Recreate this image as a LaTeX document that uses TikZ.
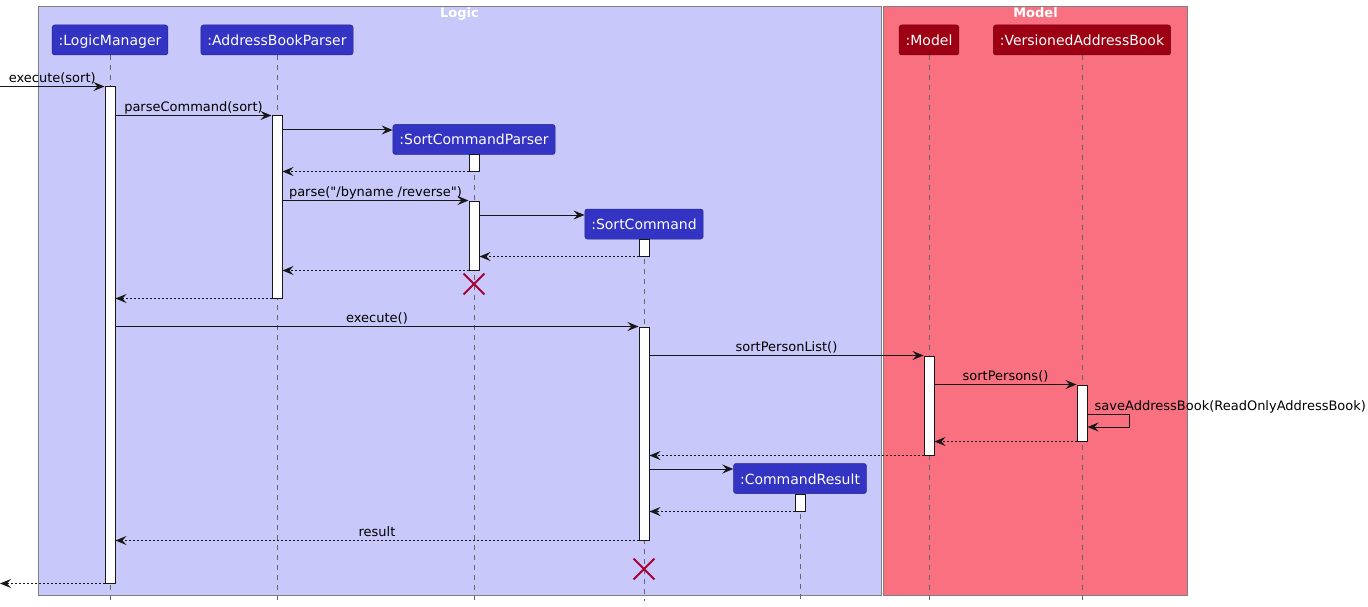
\documentclass[tikz,border=0pt]{standalone}
\usepackage{fontspec}
\setmainfont{DejaVu Sans}
\usetikzlibrary{positioning, calc, arrows.meta, shapes.misc}
\definecolor{LogicBlue}{HTML}{3333C4}
\definecolor{LogicPale}{HTML}{C8C8FA}
\definecolor{ModelRed}{HTML}{9D0012}
\definecolor{ModelPale}{HTML}{F97181}
\definecolor{KillRed}{HTML}{A80036}
\definecolor{Ink}{HTML}{181818}
\tikzstyle{Arrow} = [
line width=1pt, draw=Ink,
-{Stealth[length=11pt, width=9pt, inset=4pt]}]
\tikzstyle{Reply} = [Arrow, dash pattern=on 2pt off 2pt]
\tikzstyle{Part} = [
rounded corners=2.5pt, line width=0.5pt, text=white,
font=\fontsize{14pt}{16pt}\selectfont, text height=11pt, text depth=0pt,
minimum height=30pt, inner xsep=6.5pt]
\tikzstyle{LogicPart} = [Part, fill=LogicBlue, draw=LogicBlue!70!black]
\tikzstyle{ModelPart} = [Part, fill=ModelRed, draw=ModelRed!70!black]
\tikzstyle{Group} = [draw=black!50, line width=1pt, inner sep=0pt]
\tikzstyle{Title} = [anchor=base, inner sep=0pt, text=white, font=\fontsize{13pt}{15.6pt}\selectfont\bfseries]
\tikzstyle{Bar} = [draw=Ink, fill=white, line width=1pt, minimum width=10pt, inner sep=0pt]
\tikzstyle{Life} = [draw=black!60, line width=0.8pt, dash pattern=on 5pt off 5pt]
\tikzstyle{Kill} = [cross out, draw=KillRed, line width=1.8pt, minimum size=19pt, inner sep=0pt]
\tikzstyle{Label} = [midway, anchor=base, yshift=4pt, inner sep=0pt]

\begin{document}
\begin{tikzpicture}[x=1pt, y=-1pt, font=\fontsize{13pt}{15.6pt}\selectfont]
    \useasboundingbox (0,0) rectangle (1368,607);
    \node[Group, fill=LogicPale, minimum width=842.5pt, minimum height=588.5pt] (logic) at (459.75,300.75) {};
    \node[Group, fill=ModelPale, minimum width=304pt, minimum height=588.5pt] (model) at (1035.5,300.75) {};
    \node[Title] (logictitle) at (459.5,17.5) {Logic};
    \node[Title] (modeltitle) at (1035.5,17.5) {Model};

    \coordinate (edge) at (0,0);
    \coordinate (end) at (0,601);
    \coordinate (c1) at (0,130);
    \coordinate (c2) at (0,215);
    \coordinate (c3) at (0,469);
    \coordinate (s1) at (0,414);
    \coordinate (s2) at (0,427);

    \node[LogicPart] (1) at (110,40) {:LogicManager};
    \node[LogicPart] (2) at (277,40) {:AddressBookParser};
    \node[LogicPart] (3) at (474,139.5) {:SortCommandParser};
    \node[LogicPart] (4) at (644,224) {:SortCommand};
    \node[LogicPart] (5) at (800,478.5) {:CommandResult};
    \node[ModelPart] (6) at (929,40) {:Model};
    \node[ModelPart] (7) at (1082,40) {:VersionedAddressBook};

    \draw[Life] (1.south) -- (1.south |- end);
    \draw[Life] (2.south) -- (2.south |- end);
    \draw[Life] (3.south) -- (3.south |- end);
    \draw[Life] (4.south) -- (4.south |- end);
    \draw[Life] (5.south) -- (5.south |- end);
    \draw[Life] (6.south) -- (6.south |- end);
    \draw[Life] (7.south) -- (7.south |- end);

    \node[Bar, minimum height=496pt] (8) at (110,335) {};
    \node[Bar, minimum height=182pt] (9) at (277,207) {};
    \node[Bar, minimum height=16pt] (10) at (474,163) {};
    \node[Bar, minimum height=69pt] (11) at (474,235.5) {};
    \node[Bar, minimum height=17pt] (12) at (644,247.5) {};
    \node[Bar, minimum height=213pt] (13) at (644,433.5) {};
    \node[Bar, minimum height=99pt] (14) at (929,405.5) {};
    \node[Bar, minimum height=56pt] (15) at (1082,413) {};
    \node[Bar, minimum height=17pt] (16) at (800,502.5) {};
    \node[Kill] (17) at (474,284) {};
    \node[Kill] (18) at (644,569) {};

    \draw[Arrow] (edge |- 8.north) -- (8.north west) node[Label] (l1) {execute(sort)};
    \draw[Arrow] (8.east |- 9.north) -- (9.north west) node[Label] (l2) {parseCommand(sort)};
    \draw[Arrow] (9.east |- c1) -- (3.west |- c1);
    \draw[Reply] (10.south west) -- (9.east |- 10.south);
    \draw[Arrow] (9.east |- 11.north) -- (11.north west) node[Label] (l3) {parse(\textquotedbl/byname /reverse\textquotedbl)};
    \draw[Arrow] (11.east |- c2) -- (4.west |- c2);
    \draw[Reply] (12.south west) -- (11.east |- 12.south);
    \draw[Reply] (11.south west) -- (9.east |- 11.south);
    \draw[Reply] (9.south west) -- (8.east |- 9.south);
    \draw[Arrow] (8.east |- 13.north) -- (13.north west) node[Label] (l4) {execute()};
    \draw[Arrow] (13.east |- 14.north) -- (14.north west) node[Label] (l5) {sortPersonList()};
    \draw[Arrow] (14.east |- 15.north) -- (15.north west) node[Label] (l6) {sortPersons()};
    \draw[Arrow] (15.east |- s1) -- ++(42,0) |- (15.east |- s2);
    \node[anchor=base west, inner sep=0pt] (l7) at ($(15.east |- s1)+(7,-4)$) {saveAddressBook(ReadOnlyAddressBook)};
    \draw[Reply] (15.south west) -- (14.east |- 15.south);
    \draw[Reply] (14.south west) -- (13.east |- 14.south);
    \draw[Arrow] (13.east |- c3) -- (5.west |- c3);
    \draw[Reply] (16.south west) -- (13.east |- 16.south);
    \draw[Reply] (13.south west) -- (8.east |- 13.south) node[Label] (l8) {result};
    \draw[Reply] (8.south west) -- (edge |- 8.south);
\end{tikzpicture}
\end{document}
